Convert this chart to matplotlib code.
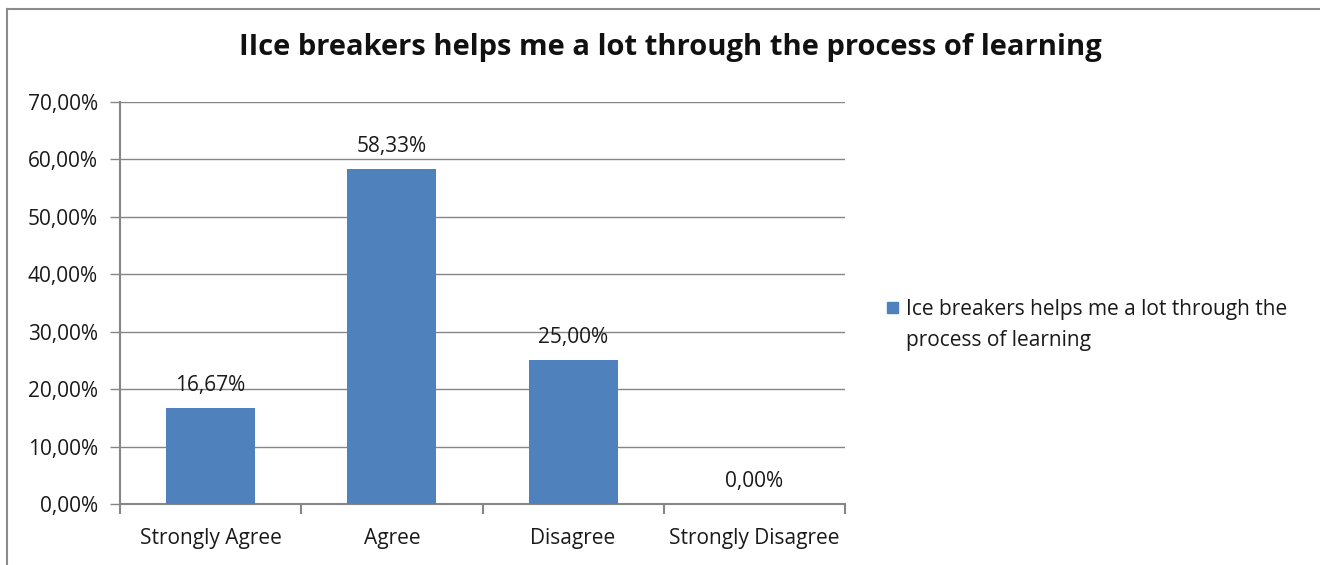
import matplotlib
matplotlib.use("Agg")
import matplotlib.pyplot as plt
from matplotlib.patches import Rectangle
from matplotlib.lines import Line2D

categories = ["Strongly Agree", "Agree", "Disagree", "Strongly Disagree"]
values = [16.67, 58.33, 25.00, 0.00]
yticks = [0, 10, 20, 30, 40, 50, 60, 70]
title = "IIce breakers helps me a lot through the process of learning"
series_name = "Ice breakers helps me a lot through the\nprocess of learning"

def fmt(v):
    return f"{v:.2f}".replace(".", ",") + "%"

plt.rcParams['font.family'] = ['Open Sans', 'DejaVu Sans']
FS = 15
W, H = 1320, 565
fig = plt.figure(figsize=(W / 100, H / 100), dpi=100)

# chart border (top and left visible)
fig.add_artist(Line2D([7 / W, 7 / W], [0, 1 - 9 / H], transform=fig.transFigure, color="#8c8c8c", lw=1.5))
fig.add_artist(Line2D([7 / W, 1], [1 - 9 / H, 1 - 9 / H], transform=fig.transFigure, color="#8c8c8c", lw=1.5))

x0, x1 = 120, 845
y0, y1 = 504, 102
ax = fig.add_axes([x0 / W, 1 - y0 / H, (x1 - x0) / W, (y0 - y1) / H])
xs = list(range(len(categories)))
ax.bar(xs, values, width=0.49, color="#4F81BD", zorder=3)
ax.set_xlim(-0.5, len(categories) - 0.5)
ax.set_ylim(0, 70)
ax.set_yticks(yticks)
ax.set_yticklabels([fmt(v) for v in yticks], fontsize=FS, color="#1a1a1a")
ax.set_xticks(xs)
ax.set_xticklabels(categories, fontsize=FS, color="#1a1a1a")
ax.tick_params(axis="x", length=0, pad=17)
ax.tick_params(axis="y", length=7, color="#868686", width=1, pad=9)
# category boundary ticks
ax.set_xticks([i - 0.5 for i in range(len(categories) + 1)], minor=True)
ax.tick_params(axis="x", which="minor", length=7, color="#868686", width=1.5)
ax.grid(axis="y", color="#868686", lw=1, zorder=0)
for s in ["top", "right"]:
    ax.spines[s].set_visible(False)
ax.spines["left"].set_color("#868686")
ax.spines["left"].set_linewidth(1.5)
ax.spines["bottom"].set_color("#868686")
ax.spines["bottom"].set_linewidth(1.5)

for x, v in zip(xs, values):
    ax.annotate(fmt(v), (x, v), xytext=(0, 9), textcoords="offset points",
                ha="center", va="bottom", fontsize=FS, color="#1a1a1a")

fig.text(670 / W, 1 - 48 / H, title, ha="center", va="center", fontsize=21, fontweight="bold", color="#111111")

# legend
fig.add_artist(Rectangle((887 / W, 1 - 313 / H), 11 / W, 11 / H, transform=fig.transFigure, color="#4F81BD"))
fig.text(906 / W, 1 - 299 / H, series_name, ha="left", va="top", fontsize=FS, color="#1a1a1a", linespacing=1.6)

fig.savefig("out.png", dpi=100)
